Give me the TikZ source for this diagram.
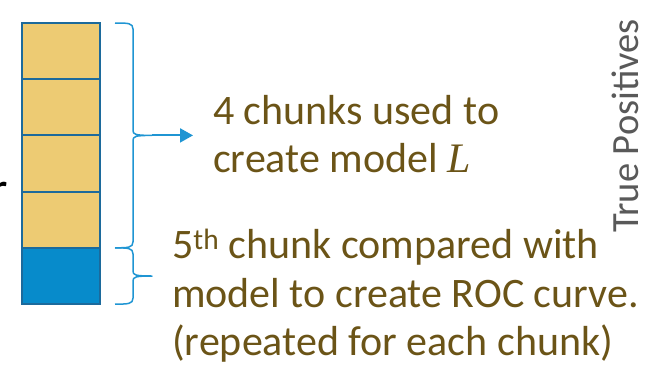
\documentclass[tikz,border=0pt]{standalone}
\usepackage{fontspec}
\setmainfont{Carlito}
\newfontfamily\modelfont{Liberation Serif}
\usetikzlibrary{calc,arrows.meta,positioning}
\definecolor{chunkgold}{HTML}{EDCB73}
\definecolor{chunkblue}{HTML}{078BCB}
\definecolor{edgeblue}{HTML}{1C6A9C}
\definecolor{bracecol}{HTML}{1F95D3}
\definecolor{textbrown}{HTML}{6B5417}
\definecolor{axisgrey}{HTML}{595959}
\tikzset{
  chunk/.style={draw=edgeblue, line width=2pt, minimum width=78pt, minimum height=56.2pt, inner sep=0pt, outer sep=0pt},
  bracestroke/.style={draw=bracecol, line width=1.5pt, line join=round},
  note/.style={text=textbrown, inner sep=0pt, align=left, font=\fontsize{42}{48.5}\selectfont},
}
% curly brace from #1 (top) to #2 (bottom), tip named #3
\newcommand{\chunkbrace}[3]{%
  \path (#1) coordinate (#3-t) (#2) coordinate (#3-b) ($(#1)!0.5!(#2)$) coordinate (#3-m);
  \coordinate (#3) at ([xshift=37pt]#3-m);
  \draw [bracestroke] (#3-t) .. controls +(13,0) and +(0,-6) .. ([shift={(18,6)}]#3-t)
    -- ([shift={(18,-5)}]#3-m) .. controls +(0,4) and +(-17,0) .. (#3)
    .. controls +(-17,0) and +(0,-4) .. ([shift={(18,5)}]#3-m)
    -- ([shift={(18,-6)}]#3-b) .. controls +(0,6) and +(13,0) .. (#3-b);
}
\begin{document}
\begin{tikzpicture}[x=1pt,y=-1pt]
\useasboundingbox (0,0) rectangle (651,370);
% cut-off letter at the left edge
\node [anchor=base east, inner sep=0pt, font=\fontsize{50}{60}\selectfont] (cut) at (8,206) {r};
% the five chunks
\foreach \i in {1,...,4}
  \node [chunk, fill=chunkgold] (c\i) at (61,{23+56.2*(\i-0.5)}) {};
\node [chunk, fill=chunkblue] (c5) at (61,276) {};
% labels
\node [note, anchor=west] (fourtxt) at (213,134) {4 chunks used to\\create model {\modelfont\itshape L}};
\node [note, anchor=west] (fifthtxt) at (172,296) {5\textsuperscript{th} chunk compared with\\model to create ROC curve.\\(repeated for each chunk)};
\node [rotate=90, text=axisgrey, inner sep=0pt, font=\fontsize{38.5}{45}\selectfont] (tpos) at (625,126) {True Positives};
% braces
\chunkbrace{[xshift=15pt]c1.north east}{[xshift=15pt]c4.south east}{tipa}
\chunkbrace{[xshift=15pt]c5.north east}{[xshift=15pt]c5.south east}{tipb}
\draw [bracecol, line width=2pt, -{Triangle[length=13pt,width=14pt]}, shorten >=20pt] (tipa) -- (tipa -| fourtxt.west);
\end{tikzpicture}
\end{document}
